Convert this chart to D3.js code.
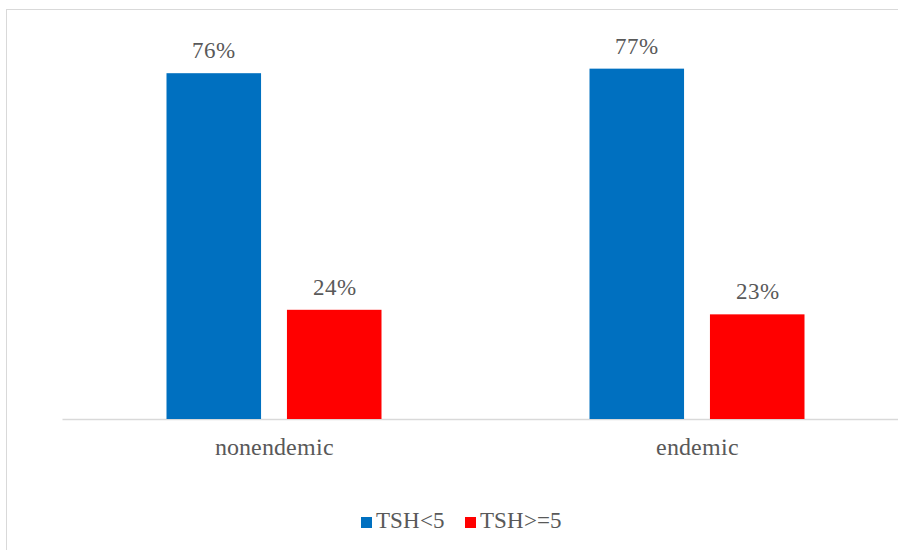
<!DOCTYPE html>
<html>
<head>
<meta charset="utf-8">
<script src="https://cdn.jsdelivr.net/npm/d3@7"></script>
<style>
  @font-face {
    font-family: 'ChartSerif';
    src: local('Liberation Serif'), local('LiberationSerif'), local('LiberationSerif-Regular'), local('Tinos'), local('Tinos-Regular');
  }
</style>
</head>
<body>
<svg id="chart" width="898" height="550"></svg>
<script>
// TSH distribution by region
const categories = ['nonendemic', 'endemic'];
const seriesNames = ['TSH<5', 'TSH>=5'];
const seriesColors = ['#0070C0', '#FF0000'];
const lowTSH = [0.76, 0.77];
const highTSH = [0.24, 0.23];

d3.select('body').style('margin', '0px');
const svg = d3.select('#chart').style('display', 'block');
const width = 898, height = 550;
const textColor = '#595959';
const fontFamily = "'ChartSerif', 'Liberation Serif', Tinos, 'Times New Roman', serif";

// chart frame (extends past right/bottom edge as in the source)
svg.append('rect')
    .attr('x', 6.5).attr('y', 9.5)
    .attr('width', width).attr('height', height)
    .attr('fill', 'none')
    .attr('stroke', '#d9d9d9')
    .attr('stroke-width', 1);

const baseY = 419;
const y = d3.scaleLinear().domain([0, 0.9]).range([baseY, 9.5]);

const x0 = d3.scaleBand()
    .domain(categories)
    .range([62.5, 908.5])
    .padding(0);

const x1 = d3.scaleBand()
    .domain(seriesNames)
    .range([104, x0.bandwidth() - 104])
    .paddingInner(0.215);

const rows = categories.map((c, i) => ({
    category: c,
    values: [lowTSH[i], highTSH[i]]
}));

// baseline
svg.append('line')
    .attr('x1', 62.5).attr('x2', width)
    .attr('y1', baseY + 0.5).attr('y2', baseY + 0.5)
    .attr('stroke', '#d9d9d9')
    .attr('stroke-width', 1.5);

const groups = svg.selectAll('.group')
    .data(rows)
    .enter()
    .append('g')
    .attr('class', 'group')
    .attr('transform', d => `translate(${x0(d.category)}, 0)`);

groups.selectAll('rect')
    .data(d => d.values.map((v, i) => ({ name: seriesNames[i], value: v, color: seriesColors[i] })))
    .enter()
    .append('rect')
    .attr('x', d => x1(d.name))
    .attr('y', d => y(d.value))
    .attr('width', x1.bandwidth())
    .attr('height', d => baseY - y(d.value))
    .attr('fill', d => d.color);

// value labels
groups.selectAll('.value')
    .data(d => d.values.map((v, i) => ({ name: seriesNames[i], value: v })))
    .enter()
    .append('text')
    .attr('class', 'value')
    .attr('x', d => x1(d.name) + x1.bandwidth() / 2)
    .attr('y', d => y(d.value) - 15)
    .attr('text-anchor', 'middle')
    .attr('fill', textColor)
    .style('font-family', fontFamily)
    .attr('font-size', 23)
    .text(d => d3.format('.0%')(d.value));

// category labels
groups.append('text')
    .attr('x', x0.bandwidth() / 2)
    .attr('y', 455)
    .attr('text-anchor', 'middle')
    .attr('fill', textColor)
    .style('font-family', fontFamily)
    .attr('font-size', 23.5)
    .text(d => d.category);

// legend
const legendX = [361, 465];
const legend = svg.append('g').attr('class', 'legend');
const items = legend.selectAll('.legend-item')
    .data(seriesNames)
    .enter()
    .append('g')
    .attr('class', 'legend-item')
    .attr('transform', (d, i) => `translate(${legendX[i]}, 517)`);

items.append('rect')
    .attr('width', 11)
    .attr('height', 11)
    .attr('fill', (d, i) => seriesColors[i]);

items.append('text')
    .attr('x', 15)
    .attr('y', 11)
    .attr('fill', textColor)
    .style('font-family', fontFamily)
    .attr('font-size', 23)
    .text(d => d);
</script>
</body>
</html>
